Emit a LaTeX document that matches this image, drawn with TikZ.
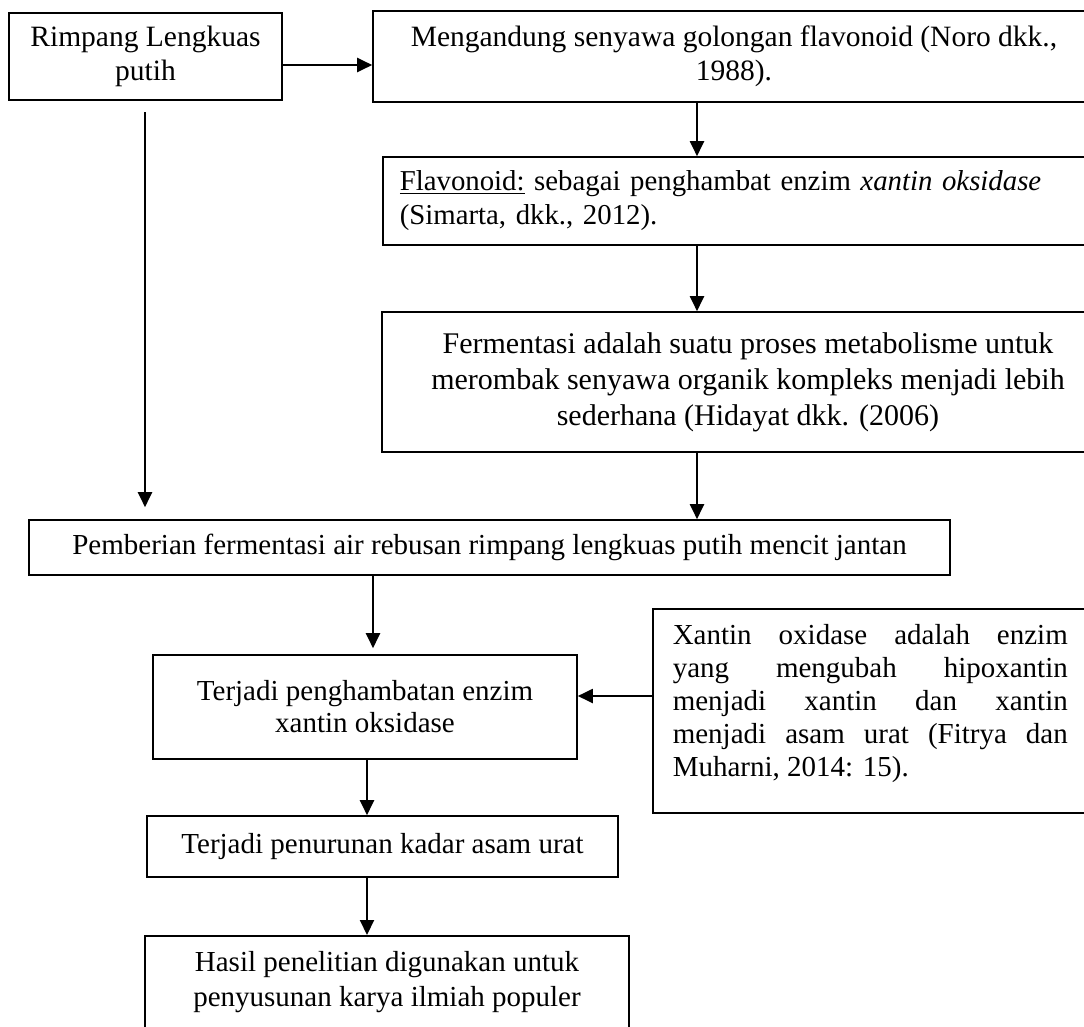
\documentclass[tikz,border=0pt]{standalone}
\usepackage{fontspec}
\setmainfont{Liberation Serif}
\usetikzlibrary{arrows.meta}
\newcommand\fsz{\fontsize{29.5pt}{34pt}\selectfont}
\begin{document}
\begin{tikzpicture}[x=1pt,y=-1pt,
  box/.style={draw, line width=1.6pt, inner sep=0pt, align=center, font=\fsz},
  arr/.style={-{Triangle[length=15pt,width=14pt]}, line width=2pt}]
\useasboundingbox[fill=white] (0,0) rectangle (1084,1026);

\node[box, minimum width=273pt, minimum height=87pt] (b1) at (145.5,56.5) {Rimpang Lengkuas\\putih};
\node[box, minimum width=722pt, minimum height=91pt] (b2) at (734,56.5) {Mengandung senyawa golongan flavonoid (Noro dkk.,\\1988).};
\node[box, anchor=west, minimum width=724pt, minimum height=88pt, text width=690pt, align=left, font=\fontsize{28.8pt}{34pt}\selectfont] (b3) at (382,201) {\underline{Flavonoid:} sebagai penghambat enzim \textit{xantin oksidase}\\(Simarta, dkk., 2012).};
\node[box, minimum width=732pt, minimum height=140pt, font=\fontsize{30pt}{36pt}\selectfont] (b4) at (748,382) {Fermentasi adalah suatu proses metabolisme untuk\\merombak senyawa organik kompleks menjadi lebih\\sederhana (Hidayat dkk. (2006)};
\node[box, minimum width=921pt, minimum height=55pt, font=\fontsize{29pt}{34pt}\selectfont] (b5) at (489.5,547.5) {Pemberian fermentasi air rebusan rimpang lengkuas putih mencit jantan};
\node[box, minimum width=424pt, minimum height=104pt, font=\fontsize{29pt}{32pt}\selectfont] (b6) at (365,707) {Terjadi penghambatan enzim\\xantin oksidase};
\node[box, anchor=north west, minimum width=464pt, minimum height=204pt, inner xsep=20pt, inner ysep=16pt] (b7) at (652,608) {\parbox[t][172pt][t]{440pt}{\fontsize{29pt}{33pt}\selectfont
\makebox[395pt][s]{Xantin oxidase adalah enzim}\\
\makebox[395pt][s]{yang mengubah hipoxantin}\\
\makebox[395pt][s]{menjadi xantin dan xantin}\\
\makebox[395pt][s]{menjadi asam urat (Fitrya dan}\\
Muharni, 2014: 15).}};
\node[box, minimum width=471pt, minimum height=61pt, font=\fontsize{29pt}{34pt}\selectfont] (b8) at (382.5,846.5) {Terjadi penurunan kadar asam urat};
\node[box, anchor=north, inner xsep=7pt, inner ysep=16pt] (b9) at (387,935) {\parbox[t][100pt][t]{470pt}{\centering\fontsize{29pt}{35pt}\selectfont Hasil penelitian digunakan untuk\\penyusunan karya ilmiah populer}};

\coordinate (r1) at (0,65);
\coordinate (cA) at (697,0);
\coordinate (cM) at (373,0);
\coordinate (cN) at (367,0);
\coordinate (cY) at (0,696);
\coordinate (ls) at (145,112);

\draw[arr] (b1.east |- r1) -- (b2.west |- r1);
\draw[arr] (b2.south -| cA) -- (b3.north -| cA);
\draw[arr] (b3.south -| cA) -- (b4.north -| cA);
\draw[arr] (b4.south -| cA) -- (b5.north -| cA);
\draw[arr, shorten >=12pt] (ls) -- (ls |- b5.north);
\draw[arr, shorten >=6pt] (b5.south -| cM) -- (b6.north -| cM);
\draw[arr] (b7.west |- cY) -- (b6.east |- cY);
\draw[arr] (b6.south -| cN) -- (b8.north -| cN);
\draw[arr] (b8.south -| cN) -- (b9.north -| cN);
\end{tikzpicture}
\end{document}
